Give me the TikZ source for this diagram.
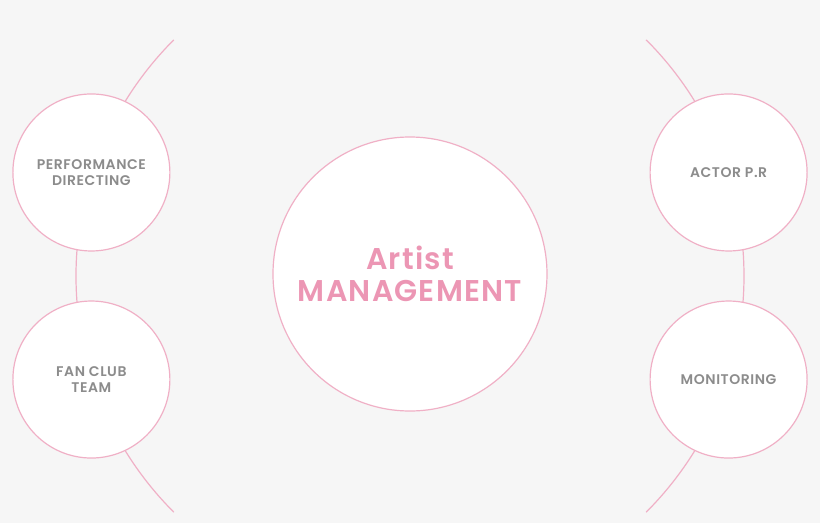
\documentclass[tikz,border=0pt]{standalone}
\usepackage{fontspec}
\setmainfont{Poppins}[BoldFont={Poppins SemiBold},LetterSpace=4]
\usepackage{xcolor}
\definecolor{bgray}{RGB}{246,246,246}
\definecolor{pinkline}{RGB}{240,176,198}
\definecolor{pinktext}{RGB}{236,150,180}
\definecolor{graytext}{RGB}{140,140,140}
\usepackage{tikz}
\usetikzlibrary{calc,positioning}

\begin{document}
\begin{tikzpicture}[x=1pt,y=1pt,
    bubble/.style={circle,draw=pinkline,line width=1.2pt,fill=white,inner sep=0pt,
      minimum size=157pt,align=center,text=graytext,
      font=\fontsize{14}{16}\selectfont\bfseries},
    hub/.style={bubble,minimum size=274pt,text=pinktext,
      font=\fontsize{30}{32}\selectfont\bfseries}]
            \def\R{334} \def\r{335}
            \fill[bgray] (-410,-247) rectangle (410,276);
            \useasboundingbox (-410,-247) rectangle (410,276);
            \coordinate (O) at (0,0);
            \draw[pinkline,line width=1.2pt] (O) ++(135:\R) arc (135:225:\R);
            \draw[pinkline,line width=1.2pt] (O) ++(-45:\R) arc (-45:45:\R);
            \node[hub] (artist) at (0,2) {Artist\\MANAGEMENT};
            \node[bubble] (perf) at (162:\r) {PERFORMANCE\\DIRECTING};
            \node[bubble] (fan) at (198:\r) {FAN CLUB\\TEAM};
            \node[bubble] (actor) at (18:\r) {ACTOR P.R};
            \node[bubble] (monitor) at (-18:\r) {MONITORING};
\end{tikzpicture}
\end{document}
